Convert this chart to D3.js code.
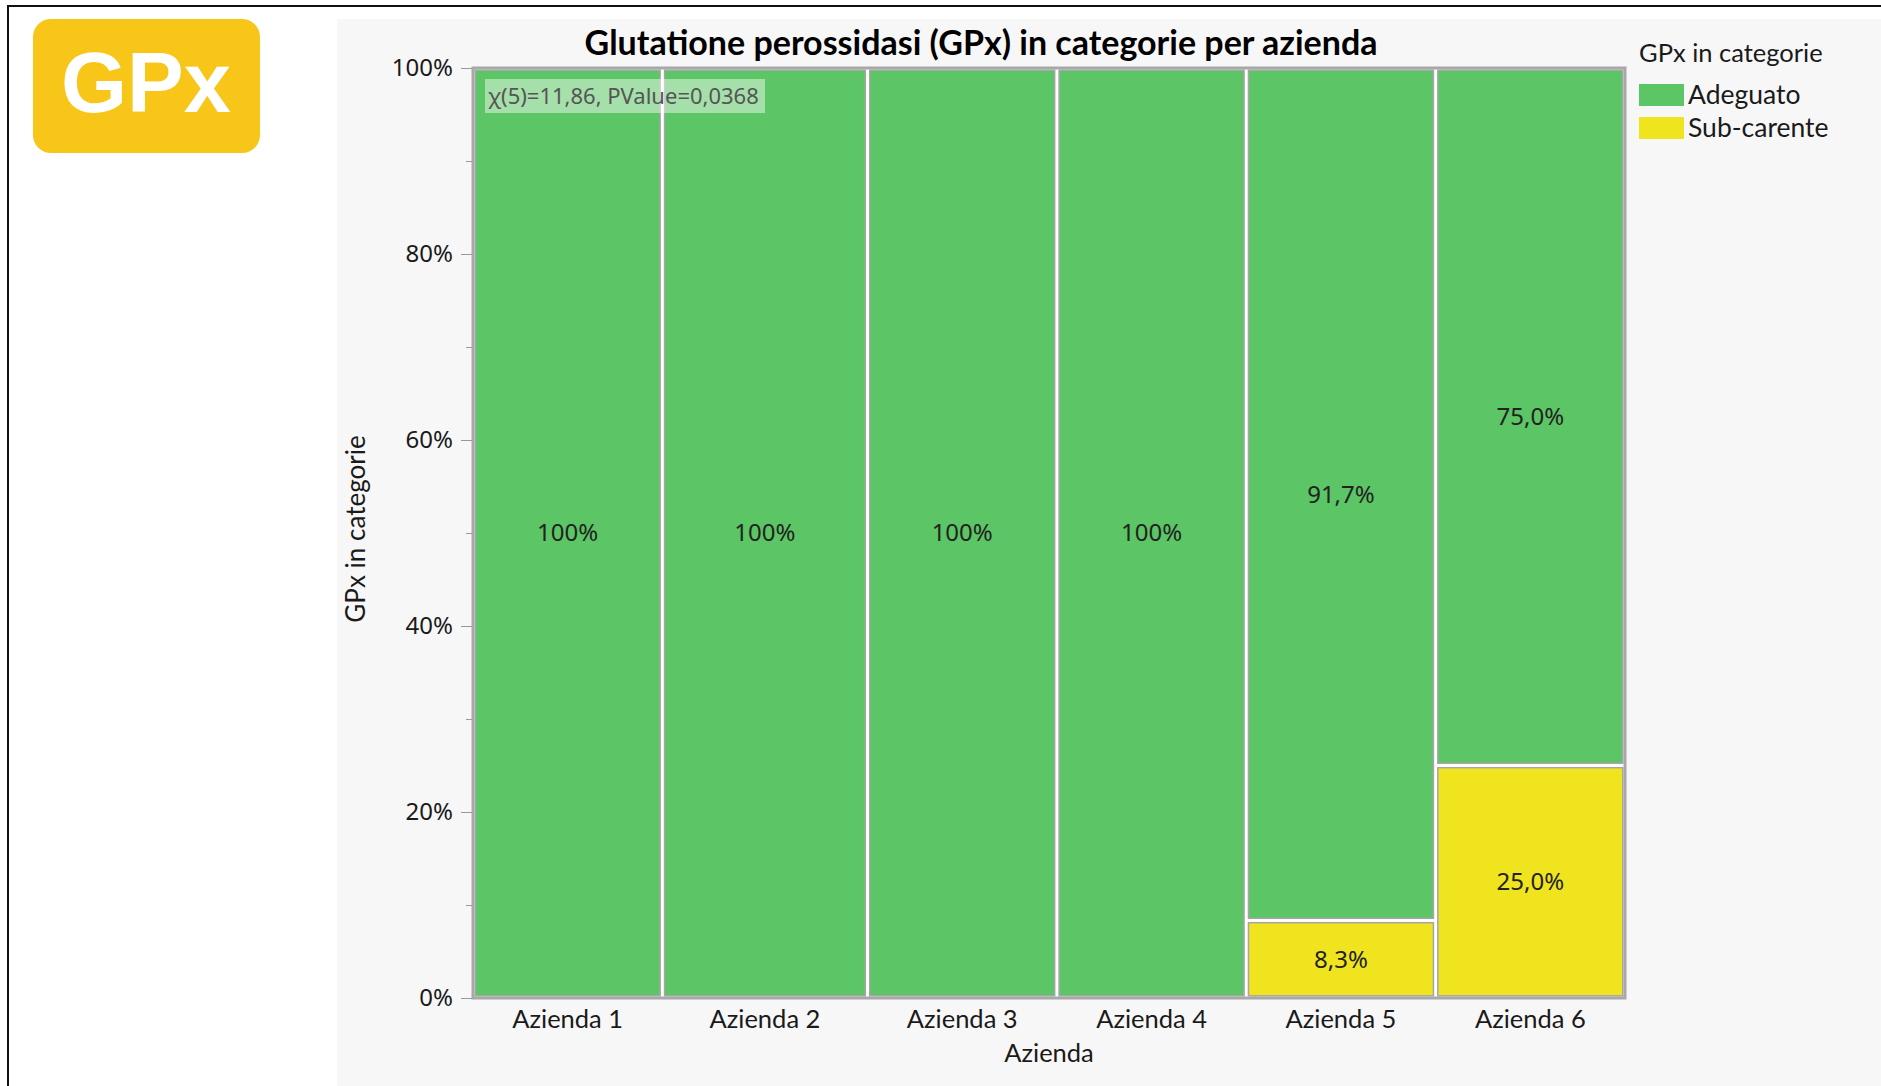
<!DOCTYPE html>
<html>
<head>
<meta charset="utf-8">
<script src="https://cdn.jsdelivr.net/npm/d3@7"></script>
<style>
  body { margin: 0; background: #fff; }
  svg { display: block; font-family: "Lato", "Noto Sans", sans-serif; }
</style>
</head>
<body>
<svg width="1881" height="1086"></svg>
<script>
// dati
var aziende = ["Azienda 1", "Azienda 2", "Azienda 3", "Azienda 4", "Azienda 5", "Azienda 6"];
var categorie = ["Adeguato", "Sub-carente"];
var adeguato = [12, 13, 12, 12, 11, 9];
var subCarente = [0, 0, 0, 0, 1, 3];
var colori = ["#5cc565", "#f0e41f"];
var yTicks = [0, 0.2, 0.4, 0.6, 0.8, 1];
var yMinor = [0.1, 0.3, 0.5, 0.7, 0.9];
var statTesto = "χ(5)=11,86, PValue=0,0368";

var svg = d3.select("svg"),
    margin = {top: 68, left: 473, right: 256, bottom: 88},
    W = +svg.attr("width"), H = +svg.attr("height"),
    width = W - margin.left - margin.right,
    height = H - margin.top - margin.bottom;

// cornice pagina e pannello grigio
svg.append("rect").attr("x", 337).attr("y", 19).attr("width", W - 337).attr("height", H - 19)
    .attr("fill", "#f7f7f7");
svg.append("path").attr("d", "M8," + H + "V6H" + W).attr("fill", "none")
    .attr("stroke", "#111").attr("stroke-width", 2);

// logo
svg.append("rect").attr("x", 33).attr("y", 19).attr("width", 227).attr("height", 134)
    .attr("rx", 18).attr("fill", "#f7c619");
svg.append("text").attr("x", 146).attr("y", 112).attr("text-anchor", "middle")
    .attr("fill", "#fff").style("font-family", "'Liberation Sans', Arial, sans-serif")
    .style("font-weight", "bold").style("font-size", "85px").text("GPx");

var totali = adeguato.map(function(d, i) { return d + subCarente[i]; });
var cum = [0];
totali.forEach(function(d, i) { cum.push(cum[i] + d); });

var x = d3.scaleLinear().domain([0, cum[cum.length - 1]]).range([0, width]);
var y = d3.scaleLinear().domain([0, 1]).range([height, 0]);

var g = svg.append("g").attr("transform", "translate(" + margin.left + "," + margin.top + ")");

g.append("rect").attr("width", width).attr("height", height).attr("fill", "#fff");

var celle = [];
aziende.forEach(function(a, i) {
  var n = totali[i];
  var sc = subCarente[i] / n, ad = adeguato[i] / n;
  if (subCarente[i] > 0) celle.push({i: i, cat: 1, y0: 0, y1: sc, p: sc});
  if (adeguato[i] > 0) celle.push({i: i, cat: 0, y0: sc, y1: 1, p: ad});
});

var gap = 2.2;
g.selectAll("rect.cella").data(celle).enter().append("rect")
    .attr("class", "cella")
    .attr("x", function(d) { return x(cum[d.i]) + gap; })
    .attr("width", function(d) { return x(cum[d.i + 1]) - x(cum[d.i]) - 2 * gap; })
    .attr("y", function(d) { return y(d.y1) + gap; })
    .attr("height", function(d) { return y(d.y0) - y(d.y1) - 2 * gap; })
    .attr("fill", function(d) { return colori[d.cat]; })
    .attr("stroke", "#a6a6a6").attr("stroke-width", 1.5);

g.append("rect").attr("width", width).attr("height", height).attr("fill", "none")
    .attr("stroke", "#a8a8a8").attr("stroke-width", 3);

var fmt = function(p) { return p === 1 ? "100%" : (p * 100).toFixed(1).replace(".", ",") + "%"; };
g.selectAll("text.val").data(celle).enter().append("text")
    .attr("class", "val")
    .attr("x", function(d) { return (x(cum[d.i]) + x(cum[d.i + 1])) / 2; })
    .attr("y", function(d) { return (y(d.y0) + y(d.y1)) / 2; })
    .attr("dy", "0.35em").attr("text-anchor", "middle")
    .attr("fill", "#222").style("font-family", "'Noto Sans', sans-serif").style("font-size", "24px")
    .text(function(d) { return fmt(d.p); });

// riquadro statistica
var stat = g.append("g").attr("transform", "translate(12,11)");
stat.append("rect").attr("width", 280).attr("height", 34).attr("fill", "#fff").attr("opacity", 0.45);
stat.append("text").attr("x", 3).attr("y", 25).attr("fill", "#555")
    .style("font-family", "'Noto Sans', sans-serif").style("font-size", "22px").text(statTesto);

// assi
var yAxis = g.append("g").attr("transform", "translate(-1,0)")
    .call(d3.axisLeft(y).tickValues(yTicks).tickFormat(d3.format(".0%")).tickSize(11).tickPadding(8));
yAxis.select(".domain").remove();
yAxis.selectAll("line").attr("stroke", "#999");
yAxis.selectAll("text").attr("fill", "#1a1a1a").style("font-family", "'Noto Sans', sans-serif").style("font-size", "24px");

var yAxisMin = g.append("g").attr("transform", "translate(-1,0)")
    .call(d3.axisLeft(y).tickValues(yMinor).tickFormat("").tickSize(6));
yAxisMin.select(".domain").remove();
yAxisMin.selectAll("line").attr("stroke", "#999");

g.selectAll("text.xlab").data(aziende).enter().append("text")
    .attr("class", "xlab")
    .attr("x", function(d, i) { return (x(cum[i]) + x(cum[i + 1])) / 2; })
    .attr("y", height + 30).attr("text-anchor", "middle").attr("fill", "#1a1a1a")
    .style("font-size", "25.5px").text(function(d) { return d; });

g.append("text").attr("x", width / 2).attr("y", height + 64).attr("text-anchor", "middle")
    .attr("fill", "#1a1a1a").style("font-size", "25.5px").text("Azienda");

g.append("text").attr("transform", "translate(-108," + (height / 2 - 4) + ") rotate(-90)")
    .attr("text-anchor", "middle").attr("fill", "#1a1a1a").style("font-size", "26px")
    .text("GPx in categorie");

// titolo
svg.append("text").attr("x", 981).attr("y", 55).attr("text-anchor", "middle")
    .attr("fill", "#000").style("font-weight", "bold").style("font-size", "34px")
    .text("Glutatione perossidasi (GPx) in categorie per azienda");

// legenda
var leg = svg.append("g").attr("transform", "translate(1639,0)");
leg.append("text").attr("y", 62).attr("fill", "#1a1a1a").style("font-size", "25.5px").text("GPx in categorie");
var li = leg.selectAll("g.li").data(categorie).enter().append("g")
    .attr("transform", function(d, i) { return "translate(0," + (84 + i * 33) + ")"; });
li.append("rect").attr("width", 45).attr("height", 22).attr("fill", function(d, i) { return colori[i]; });
li.append("text").attr("x", 49).attr("y", 20).attr("fill", "#1a1a1a").style("font-size", "26.5px")
    .text(function(d) { return d; });
</script>
</body>
</html>
